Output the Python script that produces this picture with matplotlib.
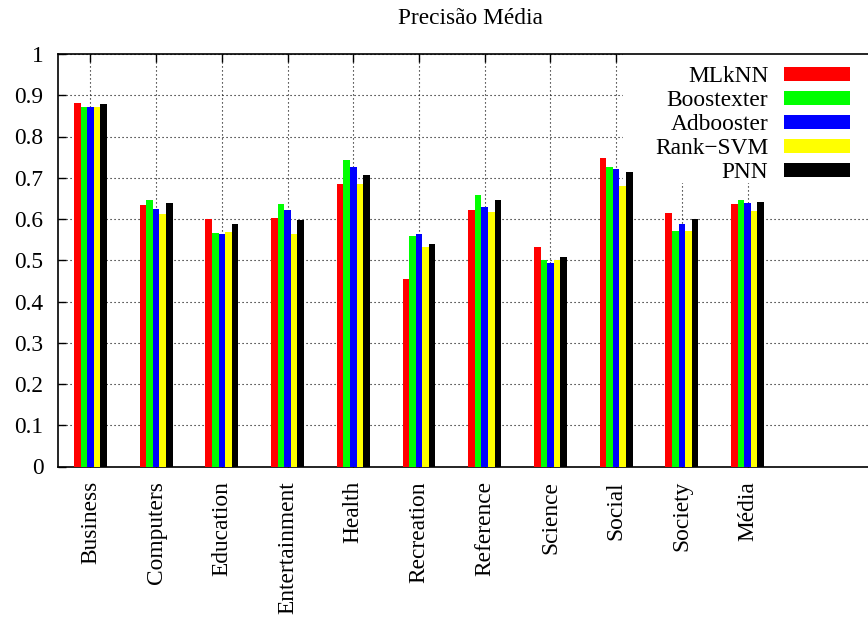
import matplotlib
matplotlib.use('Agg')
import matplotlib.pyplot as plt
from matplotlib.patches import Rectangle
import numpy as np

categories = ['Business', 'Computers', 'Education', 'Entertainment', 'Health',
              'Recreation', 'Reference', 'Science', 'Social', 'Society', 'Média']
methods = ['MLkNN', 'Boostexter', 'Adbooster', 'Rank\u2212SVM', 'PNN']
colors = ['#ff0000', '#00ff00', '#0000ff', '#ffff00', '#000000']

mlknn = [0.882, 0.635, 0.600, 0.603, 0.684, 0.455, 0.621, 0.533, 0.749, 0.614, 0.637]
boostexter = [0.872, 0.646, 0.566, 0.637, 0.742, 0.558, 0.659, 0.501, 0.727, 0.572, 0.647]
adbooster = [0.871, 0.624, 0.563, 0.623, 0.727, 0.564, 0.628, 0.494, 0.722, 0.588, 0.640]
rank_svm = [0.871, 0.613, 0.569, 0.564, 0.685, 0.533, 0.618, 0.501, 0.679, 0.572, 0.620]
pnn = [0.878, 0.640, 0.589, 0.598, 0.706, 0.540, 0.646, 0.509, 0.713, 0.599, 0.642]
series = [mlknn, boostexter, adbooster, rank_svm, pnn]

plt.rcParams['font.family'] = ['Liberation Serif', 'DejaVu Serif']
fs = 16.8

W, H = 868, 618
fig = plt.figure(figsize=(W / 100, H / 100), dpi=100)
left, right, top, bottom = 57.5, 879, 54, 466.5
ax = fig.add_axes([left / W, 1 - bottom / H, (right - left) / W, (bottom - top) / H])

x = np.arange(len(categories))
bw = 0.1
for i, (vals, c, name) in enumerate(zip(series, colors, methods)):
    ax.bar(x + (i - 2) * bw, vals, width=bw, color=c, label=name, zorder=3)

ax.set_xlim(-0.5, 12)
ax.set_ylim(0, 1)
ax.set_yticks(np.arange(0, 1.01, 0.1))
ax.set_yticklabels(['0', '0.1', '0.2', '0.3', '0.4', '0.5', '0.6', '0.7', '0.8', '0.9', '1'])
ax.set_xticks(x)
ax.set_xticklabels(categories, rotation=90, va='top', ha='center')
ax.tick_params(axis='both', direction='in', length=6, width=1, labelsize=fs,
               top=True, right=True)
ax.tick_params(axis='x', pad=10.5)
ax.tick_params(axis='y', pad=10)
ax.grid(True, color='black', linestyle=(0, (1, 2.6)), linewidth=0.8)
ax.set_axisbelow(True)
for s in ax.spines.values():
    s.set_linewidth(1.2)

# white key box hiding the grid, like gnuplot does
ax.add_patch(Rectangle((623 / W, 1 - 183 / H), (870 - 623) / W, (183 - 54) / H,
                       transform=fig.transFigure, facecolor='white',
                       edgecolor='none', zorder=2))

leg = ax.legend(loc='upper right', bbox_to_anchor=(850 / W, 1 - 66 / H),
                bbox_transform=fig.transFigure, borderaxespad=0, borderpad=0,
                markerfirst=False, fontsize=fs, handlelength=2.85, handleheight=0.55,
                handletextpad=0.65, labelspacing=0.13, frameon=False)
leg.set_zorder(4)

fig.text(470 / W, 1 - 18 / H, 'Precisão Média', ha='center', va='center', fontsize=fs)

fig.savefig('out.png', dpi=100)
